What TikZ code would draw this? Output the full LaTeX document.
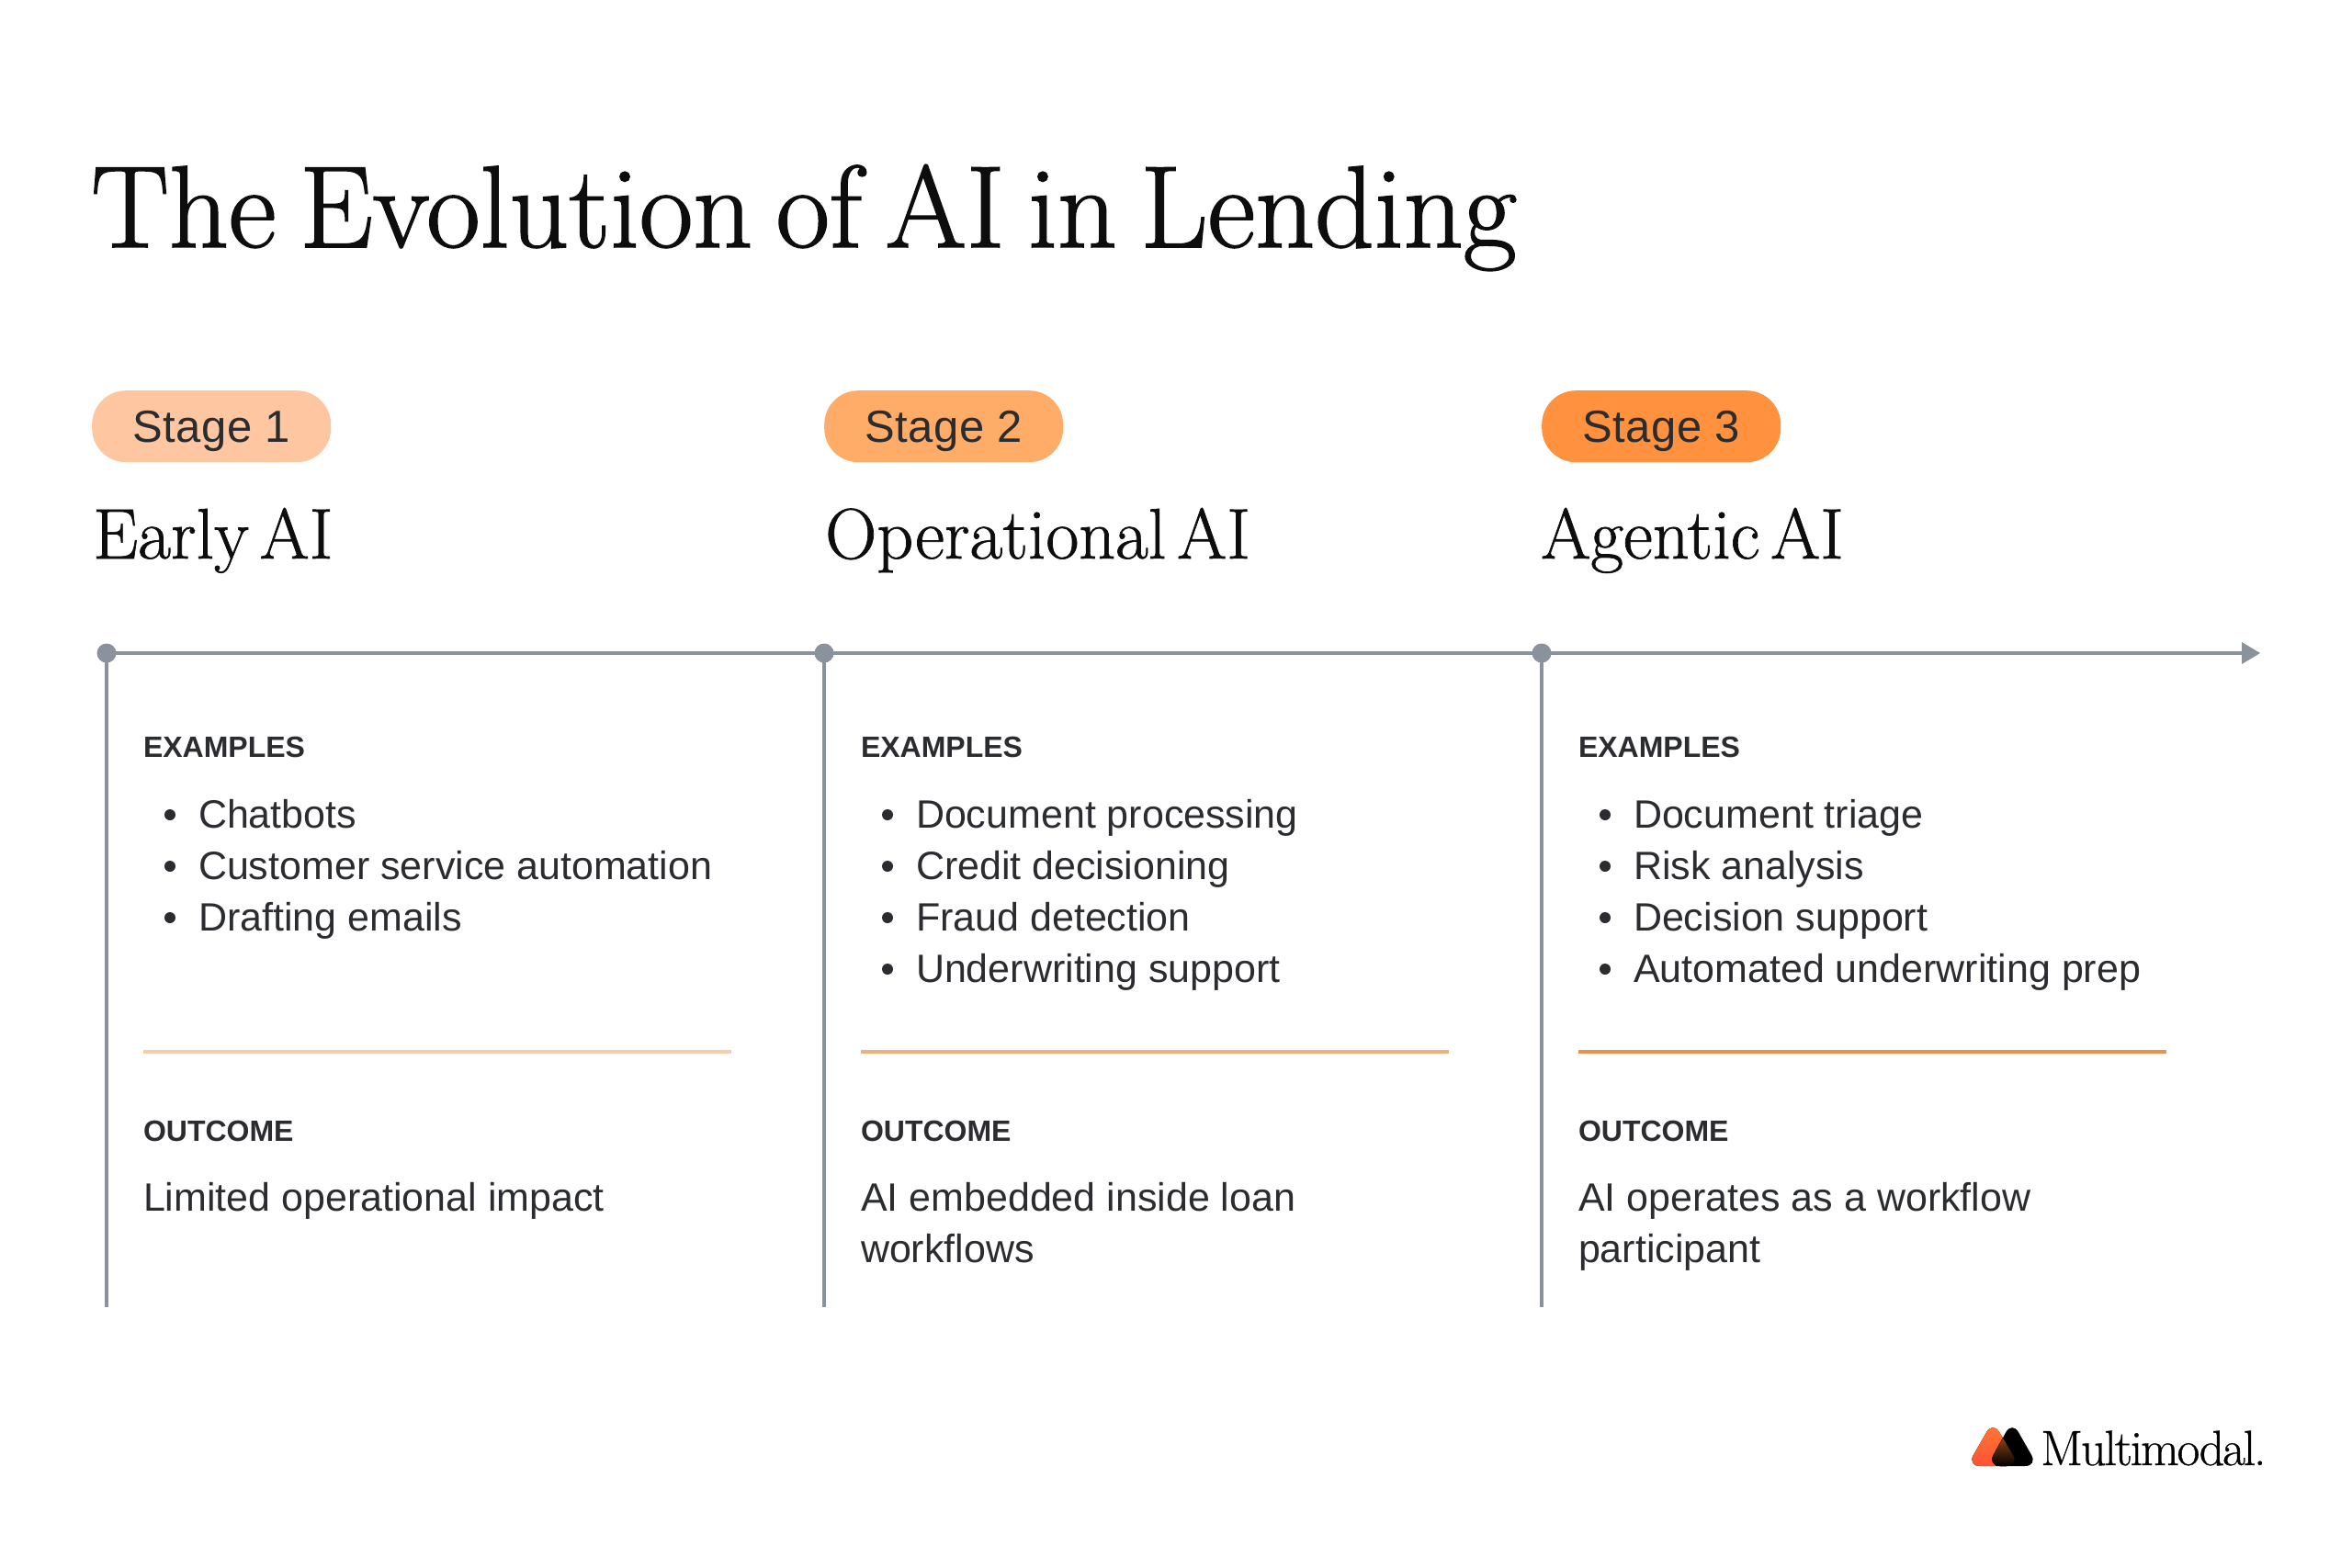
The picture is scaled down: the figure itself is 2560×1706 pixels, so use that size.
\documentclass[tikz,border=0pt]{standalone}
\usepackage{fontspec}
\setmainfont{Latin Modern Roman}
\newfontfamily\disp[FakeBold=1.2,WordSpace=0.67]{Latin Modern Roman}
\newfontfamily\dispb[FakeBold=0.9,WordSpace=0.5]{Latin Modern Roman}
\newfontfamily\brandf[FakeBold=0.6,LetterSpace=-4]{Latin Modern Roman}
\newfontfamily\inter{Liberation Sans}
\newfontfamily\interp[LetterSpace=1]{Liberation Sans}
\definecolor{axis}{HTML}{8A929E}
\definecolor{ink}{HTML}{2A2C30}
\definecolor{pillA}{HTML}{FFC7A1}
\definecolor{pillB}{HTML}{FFAC69}
\definecolor{pillC}{HTML}{FF913F}
\definecolor{ruleA}{HTML}{F2CDAE}
\definecolor{ruleB}{HTML}{EDB27C}
\definecolor{ruleC}{HTML}{E9924C}
\definecolor{logoA}{HTML}{FF7A35}
\definecolor{logoB}{HTML}{FF5233}
\tikzset{
 x=1pt,y=-1pt,
 txt/.style={anchor=base west,inner sep=0pt,outer sep=0pt,text=ink},
 body/.style={txt,font=\inter\fontsize{43}{56}\selectfont},
 head/.style={txt,font=\inter\bfseries\fontsize{32}{40}\selectfont},
 pilltext/.style={anchor=base,inner sep=0pt,text=ink,font=\interp\fontsize{49}{56}\selectfont},
 serif/.style={anchor=base west,inner sep=0pt,text=black!95},
 axisline/.style={draw=axis,line width=4pt},
 dot/.style={circle,fill=axis,inner sep=0pt,minimum size=21pt},
 bul/.style={circle,fill=ink,inner sep=0pt,minimum size=12pt},
 pill/.style={rounded corners=37pt,minimum width=260pt,minimum height=78pt,inner sep=0pt},
 divider/.style={line width=4pt},
}
\begin{document}
\begin{tikzpicture}
\useasboundingbox (0,0) rectangle (2560,1706);
\fill[white] (0,0) rectangle (2560,1706);

\node[serif,font=\disp\fontsize{127}{130}\selectfont] (title) at (99,269) {The Evolution of AI in Lending};

% pills
\node[pill,fill=pillA,anchor=north west] (p1) at (100,425) {};
\node[pill,fill=pillB,anchor=north west] (p2) at (897,425) {};
\node[pill,fill=pillC,anchor=north west] (p3) at (1678,425) {};
\node[pilltext] (p1t) at (230,481) {Stage 1};
\node[pilltext] (p2t) at (1027,481) {Stage 2};
\node[pilltext] (p3t) at (1808,481) {Stage 3};

\node[serif,font=\dispb\fontsize{78}{86}\selectfont] (h1) at (101,608) {Early AI};
\node[serif,font=\dispb\fontsize{78}{86}\selectfont] (h2) at (898,608) {Operational AI};
\node[serif,font=\dispb\fontsize{78}{86}\selectfont] (h3) at (1677,608) {Agentic AI};

% axis
\coordinate (d1) at (116,711);
\coordinate (d2) at (897,711);
\coordinate (d3) at (1678,711);
\coordinate (end) at (2442,711);
\coordinate (b1) at (116,1423);
\coordinate (b2) at (897,1423);
\coordinate (b3) at (1678,1423);
\draw[axisline] (d1) -- (end);
\fill[axis] (2440,699) -- (2460,711) -- (2440,723) -- cycle;
\draw[axisline] (d1) -- (b1);
\draw[axisline] (d2) -- (b2);
\draw[axisline] (d3) -- (b3);
\node[dot] (n1) at (d1) {};
\node[dot] (n2) at (d2) {};
\node[dot] (n3) at (d3) {};

% col 1
\node[head] (e1) at (156,824) {EXAMPLES};
\node[bul] at (185,887) {}; \node[body] at (216,901) {Chatbots};
\node[bul] at (185,943) {}; \node[body] at (216,957) {Customer service automation};
\node[bul] at (185,999) {}; \node[body] at (216,1013) {Drafting emails};
\draw[ruleA,divider] (156,1144.5) -- (796,1144.5);
\node[head] (o1) at (156,1242) {OUTCOME};
\node[body] at (156,1318) {Limited operational impact};

% col 2
\node[head] (e2) at (937,824) {EXAMPLES};
\node[bul] at (966,887) {}; \node[body] at (997,901) {Document processing};
\node[bul] at (966,943) {}; \node[body] at (997,957) {Credit decisioning};
\node[bul] at (966,999) {}; \node[body] at (997,1013) {Fraud detection};
\node[bul] at (966,1055) {}; \node[body] at (997,1069) {Underwriting support};
\draw[ruleB,divider] (937,1144.5) -- (1577,1144.5);
\node[head] (o2) at (937,1242) {OUTCOME};
\node[body] at (937,1318) {AI embedded inside loan};
\node[body] at (937,1374) {workflows};

% col 3
\node[head] (e3) at (1718,824) {EXAMPLES};
\node[bul] at (1747,887) {}; \node[body] at (1778,901) {Document triage};
\node[bul] at (1747,943) {}; \node[body] at (1778,957) {Risk analysis};
\node[bul] at (1747,999) {}; \node[body] at (1778,1013) {Decision support};
\node[bul] at (1747,1055) {}; \node[body] at (1778,1069) {Automated underwriting prep};
\draw[ruleC,divider] (1718,1144.5) -- (2358,1144.5);
\node[head] (o3) at (1718,1242) {OUTCOME};
\node[body] at (1718,1318) {AI operates as a workflow};
\node[body] at (1718,1374) {participant};

% logo
\fill[rounded corners=14pt,top color=logoA,bottom color=logoB] (2169,1547) -- (2141,1596) -- (2198,1596) -- cycle;
\fill[rounded corners=14pt,black] (2190,1547) -- (2163,1596) -- (2218,1596) -- cycle;
\begin{scope}
\clip[rounded corners=14pt] (2169,1547) -- (2141,1596) -- (2198,1596) -- cycle;
\fill[rounded corners=14pt,top color=logoA!85!black,bottom color=black] (2190,1547) -- (2163,1596) -- (2218,1596) -- cycle;
\end{scope}
\node[serif,font=\brandf\fontsize{54}{60}\selectfont,text=black] (brand) at (2221,1595) {Multimodal.};
\end{tikzpicture}
\end{document}
